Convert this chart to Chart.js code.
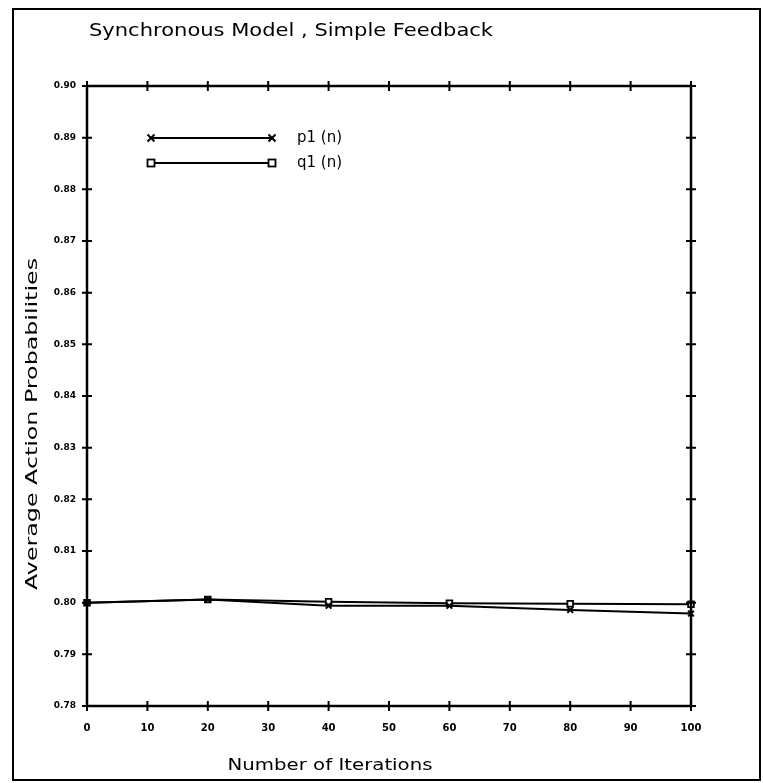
<!DOCTYPE html>
<html>
<head>
<meta charset="utf-8">
<script src="https://cdn.jsdelivr.net/npm/chart.js@4/dist/chart.umd.min.js"></script>
<style>
  html, body { margin: 0; padding: 0; background: #fff; }
  canvas { display: block; }
</style>
</head>
<body>
<canvas id="chart" width="763" height="783"></canvas>
<script>
// Data
const iterations = [0, 20, 40, 60, 80, 100];
const p1Values = [0.8000, 0.8006, 0.7994, 0.7994, 0.7986, 0.7979];
const q1Values = [0.8000, 0.8006, 0.8002, 0.7999, 0.7998, 0.7997];
const xTicks = [0, 10, 20, 30, 40, 50, 60, 70, 80, 90, 100];
const yTicks = [0.78, 0.79, 0.80, 0.81, 0.82, 0.83, 0.84, 0.85, 0.86, 0.87, 0.88, 0.89, 0.90];

const titleText = 'Synchronous Model , Simple Feedback';
const xTitle = 'Number of Iterations';
const yTitle = 'Average Action Probabilities';
const legendLabels = ['p1 (n)', 'q1 (n)'];

const plotFont = '"DejaVu Sans", sans-serif';

// draw text squeezed/stretched to a given width
function fitText(ctx, text, x, y, width, size, rotate) {
  ctx.save();
  ctx.font = size + 'px ' + plotFont;
  const w = ctx.measureText(text).width;
  ctx.translate(x, y);
  if (rotate) ctx.rotate(-Math.PI / 2);
  ctx.scale(width / w, 1);
  ctx.textAlign = 'center';
  ctx.textBaseline = 'middle';
  ctx.fillStyle = '#000';
  ctx.fillText(text, 0, 0);
  ctx.restore();
}

function drawMarker(ctx, style, x, y, r) {
  ctx.save();
  ctx.strokeStyle = '#000';
  ctx.lineWidth = 2;
  if (style === 'crossRot') {
    ctx.beginPath();
    ctx.moveTo(x - r, y - r); ctx.lineTo(x + r, y + r);
    ctx.moveTo(x + r, y - r); ctx.lineTo(x - r, y + r);
    ctx.stroke();
  } else {
    ctx.fillStyle = '#fff';
    ctx.fillRect(x - r, y - r, 2 * r, 2 * r);
    ctx.lineWidth = 1.8;
    ctx.strokeRect(x - r, y - r, 2 * r, 2 * r);
  }
  ctx.restore();
}

const decorPlugin = {
  id: 'decor',
  beforeDraw(chart) {
    const ctx = chart.ctx;
    ctx.save();
    ctx.fillStyle = '#fff';
    ctx.fillRect(0, 0, chart.width, chart.height);
    ctx.strokeStyle = '#000';
    ctx.lineWidth = 2;
    ctx.strokeRect(13, 9, 747, 771);
    ctx.restore();
  },
  afterDatasetsDraw(chart) {
    const ctx = chart.ctx;
    const area = chart.chartArea;
    const xs = chart.scales.x;
    const ys = chart.scales.y;

    ctx.save();
    ctx.strokeStyle = '#000';
    ctx.lineWidth = 2.5;
    ctx.strokeRect(area.left, area.top, area.right - area.left, area.bottom - area.top);

    // crossing tick marks on all four sides
    ctx.lineWidth = 2;
    ctx.beginPath();
    xTicks.forEach(v => {
      const px = xs.getPixelForValue(v);
      ctx.moveTo(px, area.bottom - 5); ctx.lineTo(px, area.bottom + 5);
      ctx.moveTo(px, area.top - 5); ctx.lineTo(px, area.top + 5);
    });
    yTicks.forEach(v => {
      const py = ys.getPixelForValue(v);
      ctx.moveTo(area.left - 5, py); ctx.lineTo(area.left + 5, py);
      ctx.moveTo(area.right - 5, py); ctx.lineTo(area.right + 5, py);
    });
    ctx.stroke();
    ctx.restore();

    // titles
    fitText(ctx, titleText, 291, 32, 404, 17, false);
    fitText(ctx, xTitle, 330, 766, 205, 15, false);
    fitText(ctx, yTitle, 33, 424, 332, 15, true);

    // legend
    const styles = ['crossRot', 'rect'];
    const rows = [138, 163];
    rows.forEach((y, i) => {
      ctx.save();
      ctx.strokeStyle = '#000';
      ctx.lineWidth = 2;
      ctx.beginPath();
      ctx.moveTo(151, y); ctx.lineTo(272, y);
      ctx.stroke();
      ctx.restore();
      drawMarker(ctx, styles[i], 151, y, 3.5);
      drawMarker(ctx, styles[i], 272, y, 3.5);
      ctx.save();
      ctx.font = '15px ' + plotFont;
      ctx.textBaseline = 'middle';
      ctx.fillStyle = '#000';
      ctx.fillText(legendLabels[i], 297, y);
      ctx.restore();
    });
  }
};

const ctx = document.getElementById('chart').getContext('2d');
new Chart(ctx, {
  type: 'line',
  data: {
    datasets: [
      {
        label: legendLabels[0],
        data: iterations.map((x, i) => ({ x: x, y: p1Values[i] })),
        borderColor: '#000',
        borderWidth: 2,
        pointStyle: 'crossRot',
        pointRadius: 4,
        pointBorderWidth: 2,
        pointBorderColor: '#000',
        pointBackgroundColor: '#000',
        tension: 0,
        clip: false
      },
      {
        label: legendLabels[1],
        data: iterations.map((x, i) => ({ x: x, y: q1Values[i] })),
        borderColor: '#000',
        borderWidth: 2,
        pointStyle: 'rect',
        pointRadius: 4,
        pointBorderWidth: 1.8,
        pointBorderColor: '#000',
        pointBackgroundColor: '#fff',
        tension: 0,
        clip: false
      }
    ]
  },
  options: {
    responsive: false,
    animation: false,
    devicePixelRatio: 1,
    layout: { padding: { left: 0, top: 86, right: 72, bottom: 0 } },
    plugins: {
      legend: { display: false },
      title: { display: false },
      tooltip: { enabled: false }
    },
    scales: {
      x: {
        type: 'linear',
        min: 0,
        max: 100,
        afterFit: scale => { scale.height = 77; },
        afterBuildTicks: scale => { scale.ticks = xTicks.map(v => ({ value: v })); },
        grid: { display: true, drawOnChartArea: false, drawTicks: false },
        border: { display: false },
        ticks: {
          padding: 16,
          maxRotation: 0,
          color: '#000',
          font: { family: plotFont, size: 10, weight: 'bold' },
          callback: v => String(v)
        }
      },
      y: {
        type: 'linear',
        min: 0.78,
        max: 0.90,
        afterFit: scale => { scale.width = 87; },
        afterBuildTicks: scale => { scale.ticks = yTicks.map(v => ({ value: v })); },
        grid: { display: true, drawOnChartArea: false, drawTicks: false },
        border: { display: false },
        ticks: {
          padding: 11,
          color: '#000',
          font: { family: plotFont, size: 9, weight: 'bold' },
          callback: v => v.toFixed(2)
        }
      }
    }
  },
  plugins: [decorPlugin]
});
</script>
</body>
</html>
